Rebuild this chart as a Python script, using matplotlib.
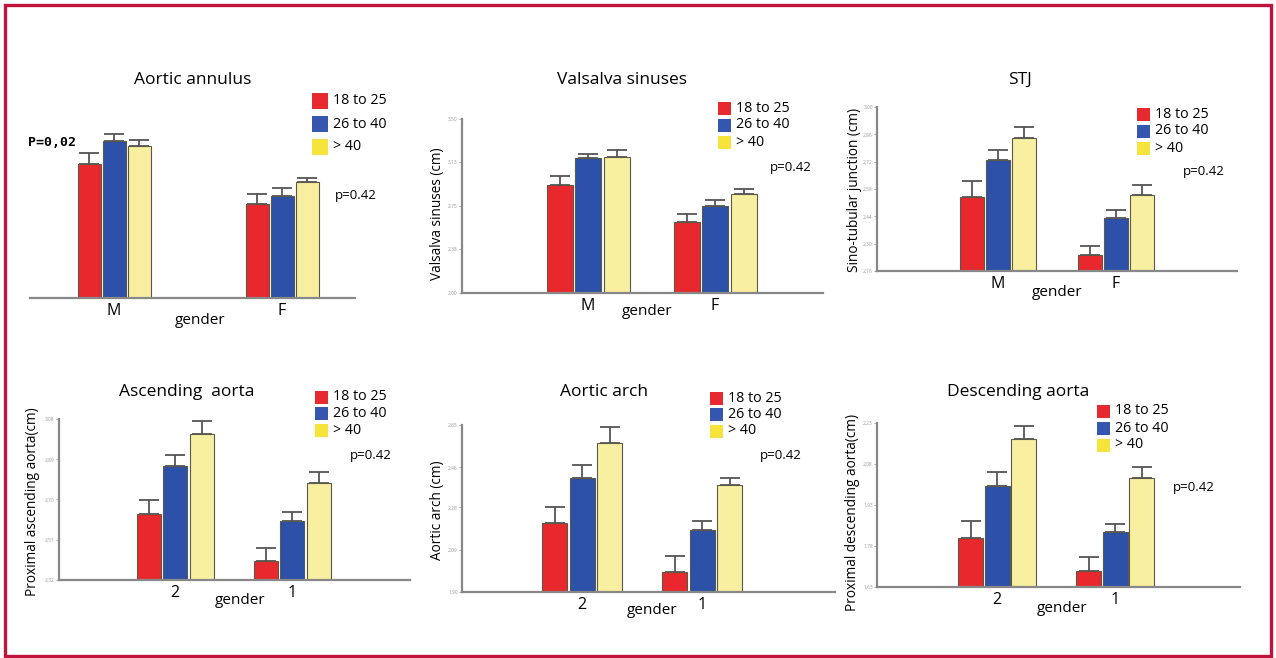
import matplotlib
matplotlib.use('Agg')
import matplotlib.pyplot as plt
from matplotlib.patches import Rectangle

plt.rcParams['font.family'] = ['Open Sans', 'DejaVu Sans']

W, H = 1276, 658

#Age groups and colours
groups = ['18 to 25', '26 to 40', '> 40']
bar_colors = ['#E8282C', '#2D50A8', '#F9EFA0']
legend_colors = ['#E62A30', '#3556AE', '#F6E43C']

#Data per panel: means (first gender group, second gender group) and upper error
annulus_m = [2.38, 2.53, 2.50]
annulus_f = [2.12, 2.17, 2.26]
annulus_err_m = [0.07, 0.05, 0.04]
annulus_err_f = [0.06, 0.05, 0.03]

valsalva_m = [2.93, 3.16, 3.17]
valsalva_f = [2.61, 2.75, 2.85]
valsalva_err_m = [0.08, 0.04, 0.06]
valsalva_err_f = [0.07, 0.05, 0.05]

stj_m = [2.54, 2.73, 2.84]
stj_f = [2.24, 2.43, 2.55]
stj_err_m = [0.08, 0.05, 0.06]
stj_err_f = [0.05, 0.04, 0.05]

ascending_2 = [2.63, 2.86, 3.01]
ascending_1 = [2.41, 2.60, 2.78]
ascending_err_2 = [0.07, 0.05, 0.06]
ascending_err_1 = [0.06, 0.04, 0.05]

arch_2 = [2.21, 2.41, 2.57]
arch_1 = [1.99, 2.18, 2.38]
arch_err_2 = [0.07, 0.06, 0.07]
arch_err_1 = [0.07, 0.04, 0.03]

descending_2 = [1.81, 2.00, 2.17]
descending_1 = [1.69, 1.83, 2.03]
descending_err_2 = [0.06, 0.05, 0.05]
descending_err_1 = [0.05, 0.03, 0.04]

#Tick values of the y axes
valsalva_ticks = [2.00, 2.38, 2.75, 3.13, 3.50]
stj_ticks = [2.16, 2.30, 2.44, 2.58, 2.72, 2.86, 3.00]
ascending_ticks = [2.32, 2.51, 2.70, 2.89, 3.08]
arch_ticks = [1.90, 2.09, 2.28, 2.46, 2.65]
descending_ticks = [1.63, 1.78, 1.93, 2.08, 2.23]

fig = plt.figure(figsize=(W / 100, H / 100), dpi=100)

#Crimson frame
fig.patches.append(Rectangle((5 / W, 2 / H), 1266 / W, 651 / H, transform=fig.transFigure,
                             fill=False, edgecolor='#C0143C', linewidth=2.4))

def fig_x(px):
    return px / W

def fig_y(py):
    return 1 - py / H

panels = [
    dict(title='Aortic annulus', cats=['M', 'F'], vals=(annulus_m, annulus_f),
         errs=(annulus_err_m, annulus_err_f), ticks=None, ylim=(1.5, 2.8), ylabel=None,
         box=(30, 355, 100, 298), centers=(114, 282), bw=23, step=25,
         title_xy=(193, 80), gender_xy=(200, 321), legend_xy=(312, 101), leg_gap=23, leg_size=16,
         p_xy=(335, 196), ylabel_xy=None),
    dict(title='Valsalva sinuses', cats=['M', 'F'], vals=(valsalva_m, valsalva_f),
         errs=(valsalva_err_m, valsalva_err_f), ticks=valsalva_ticks, ylim=None,
         ylabel='Valsalva sinuses (cm)',
         box=(462, 823, 119, 293), centers=(588, 715), bw=26, step=28.5,
         title_xy=(622, 80), gender_xy=(647, 312), legend_xy=(718, 108), leg_gap=17, leg_size=13,
         p_xy=(770, 168), ylabel_xy=(437, 214)),
    dict(title='STJ', cats=['M', 'F'], vals=(stj_m, stj_f),
         errs=(stj_err_m, stj_err_f), ticks=stj_ticks, ylim=None,
         ylabel='Sino-tubular junction (cm)',
         box=(877, 1237, 107, 271), centers=(998, 1116), bw=24, step=26,
         title_xy=(1020, 80), gender_xy=(1057, 292), legend_xy=(1137, 114), leg_gap=17, leg_size=13,
         p_xy=(1183, 172), ylabel_xy=(855, 190)),
    dict(title='Ascending  aorta', cats=['2', '1'], vals=(ascending_2, ascending_1),
         errs=(ascending_err_2, ascending_err_1), ticks=ascending_ticks, ylim=None,
         ylabel='Proximal ascending aorta(cm)',
         box=(59, 410, 419, 580), centers=(175, 292), bw=24, step=26.5,
         title_xy=(187, 392), gender_xy=(240, 601), legend_xy=(315, 397), leg_gap=16.5, leg_size=13,
         p_xy=(350, 455), ylabel_xy=(33, 502)),
    dict(title='Aortic arch', cats=['2', '1'], vals=(arch_2, arch_1),
         errs=(arch_err_2, arch_err_1), ticks=arch_ticks, ylim=None,
         ylabel='Aortic arch (cm)',
         box=(462, 835, 425, 592), centers=(582, 702), bw=25, step=27.5,
         title_xy=(604, 392), gender_xy=(652, 611), legend_xy=(710, 398), leg_gap=16.5, leg_size=13,
         p_xy=(760, 456), ylabel_xy=(437, 510)),
    dict(title='Descending aorta', cats=['2', '1'], vals=(descending_2, descending_1),
         errs=(descending_err_2, descending_err_1), ticks=descending_ticks, ylim=None,
         ylabel='Proximal descending aorta(cm)',
         box=(877, 1240, 423, 587), centers=(997, 1115), bw=25, step=26.5,
         title_xy=(1018, 392), gender_xy=(1062, 608), legend_xy=(1097, 411), leg_gap=17, leg_size=13,
         p_xy=(1173, 488), ylabel_xy=(853, 512)),
]

for p in panels:
    x0, x1, y0, y1 = p['box']
    ax = fig.add_axes([fig_x(x0), fig_y(y1), (x1 - x0) / W, (y1 - y0) / H])
    c1, c2 = p['centers']
    d = c2 - c1
    ax.set_xlim((x0 - c1) / d, (x1 - c1) / d)
    if p['ticks'] is not None:
        ax.set_ylim(p['ticks'][0], p['ticks'][-1])
    else:
        ax.set_ylim(*p['ylim'])
    base = ax.get_ylim()[0]

    for g in range(2):
        for i in range(3):
            xpos = g + (i - 1) * p['step'] / d
            v = p['vals'][g][i]
            e = p['errs'][g][i]
            ax.bar(xpos, v - base, bottom=base, width=p['bw'] / d, color=bar_colors[i],
                   edgecolor='#5a5a4a', linewidth=0.8, zorder=2)
            ax.errorbar(xpos, v, yerr=[[0], [e]], fmt='none', ecolor='#555555',
                        elinewidth=1.3, capsize=7.5, capthick=1.3, zorder=1)

    for s in ['top', 'right']:
        ax.spines[s].set_visible(False)
    ax.spines['bottom'].set_color('#888888')
    ax.spines['bottom'].set_linewidth(1.6)
    if p['ticks'] is None:
        ax.spines['left'].set_visible(False)
        ax.set_yticks([])
    else:
        ax.spines['left'].set_color('#888888')
        ax.spines['left'].set_linewidth(1.6)
        ax.set_yticks(p['ticks'])
        ax.set_yticklabels([('%.2f' % t).replace('.', ',') for t in p['ticks']])
        ax.tick_params(axis='y', length=2, width=0.6, colors='#999999', labelsize=3.5, pad=1)

    ax.set_xticks([0, 1])
    ax.set_xticklabels(p['cats'])
    ax.tick_params(axis='x', length=0, labelsize=11.5, pad=3.5)
    ax.patch.set_alpha(0)

    fig.text(fig_x(p['title_xy'][0]), fig_y(p['title_xy'][1]), p['title'], fontsize=12.5,
             ha='center', va='center')
    fig.text(fig_x(p['gender_xy'][0]), fig_y(p['gender_xy'][1]), 'gender', fontsize=11,
             ha='center', va='center')
    if p['ylabel'] is not None:
        fig.text(fig_x(p['ylabel_xy'][0]), fig_y(p['ylabel_xy'][1]), p['ylabel'], fontsize=9.8,
                 rotation=90, ha='center', va='center')

    #Legend drawn as coloured squares with labels
    lx, ly = p['legend_xy']
    sz = p['leg_size']
    for i, lab in enumerate(groups):
        cy = ly + i * p['leg_gap']
        fig.patches.append(Rectangle((fig_x(lx), fig_y(cy + sz / 2)), sz / W, sz / H,
                                     transform=fig.transFigure, facecolor=legend_colors[i],
                                     edgecolor='none'))
        fig.text(fig_x(lx + sz + 5), fig_y(cy), lab, fontsize=10.3, ha='left', va='center')

    fig.text(fig_x(p['p_xy'][0]), fig_y(p['p_xy'][1]), 'p=0.42', fontsize=9.5,
             ha='left', va='center')

fig.text(fig_x(28), fig_y(143), 'P=0,02', fontsize=9.5, fontweight='bold',
         family='DejaVu Sans Mono', ha='left', va='center')

fig.savefig('out.png', dpi=100)
